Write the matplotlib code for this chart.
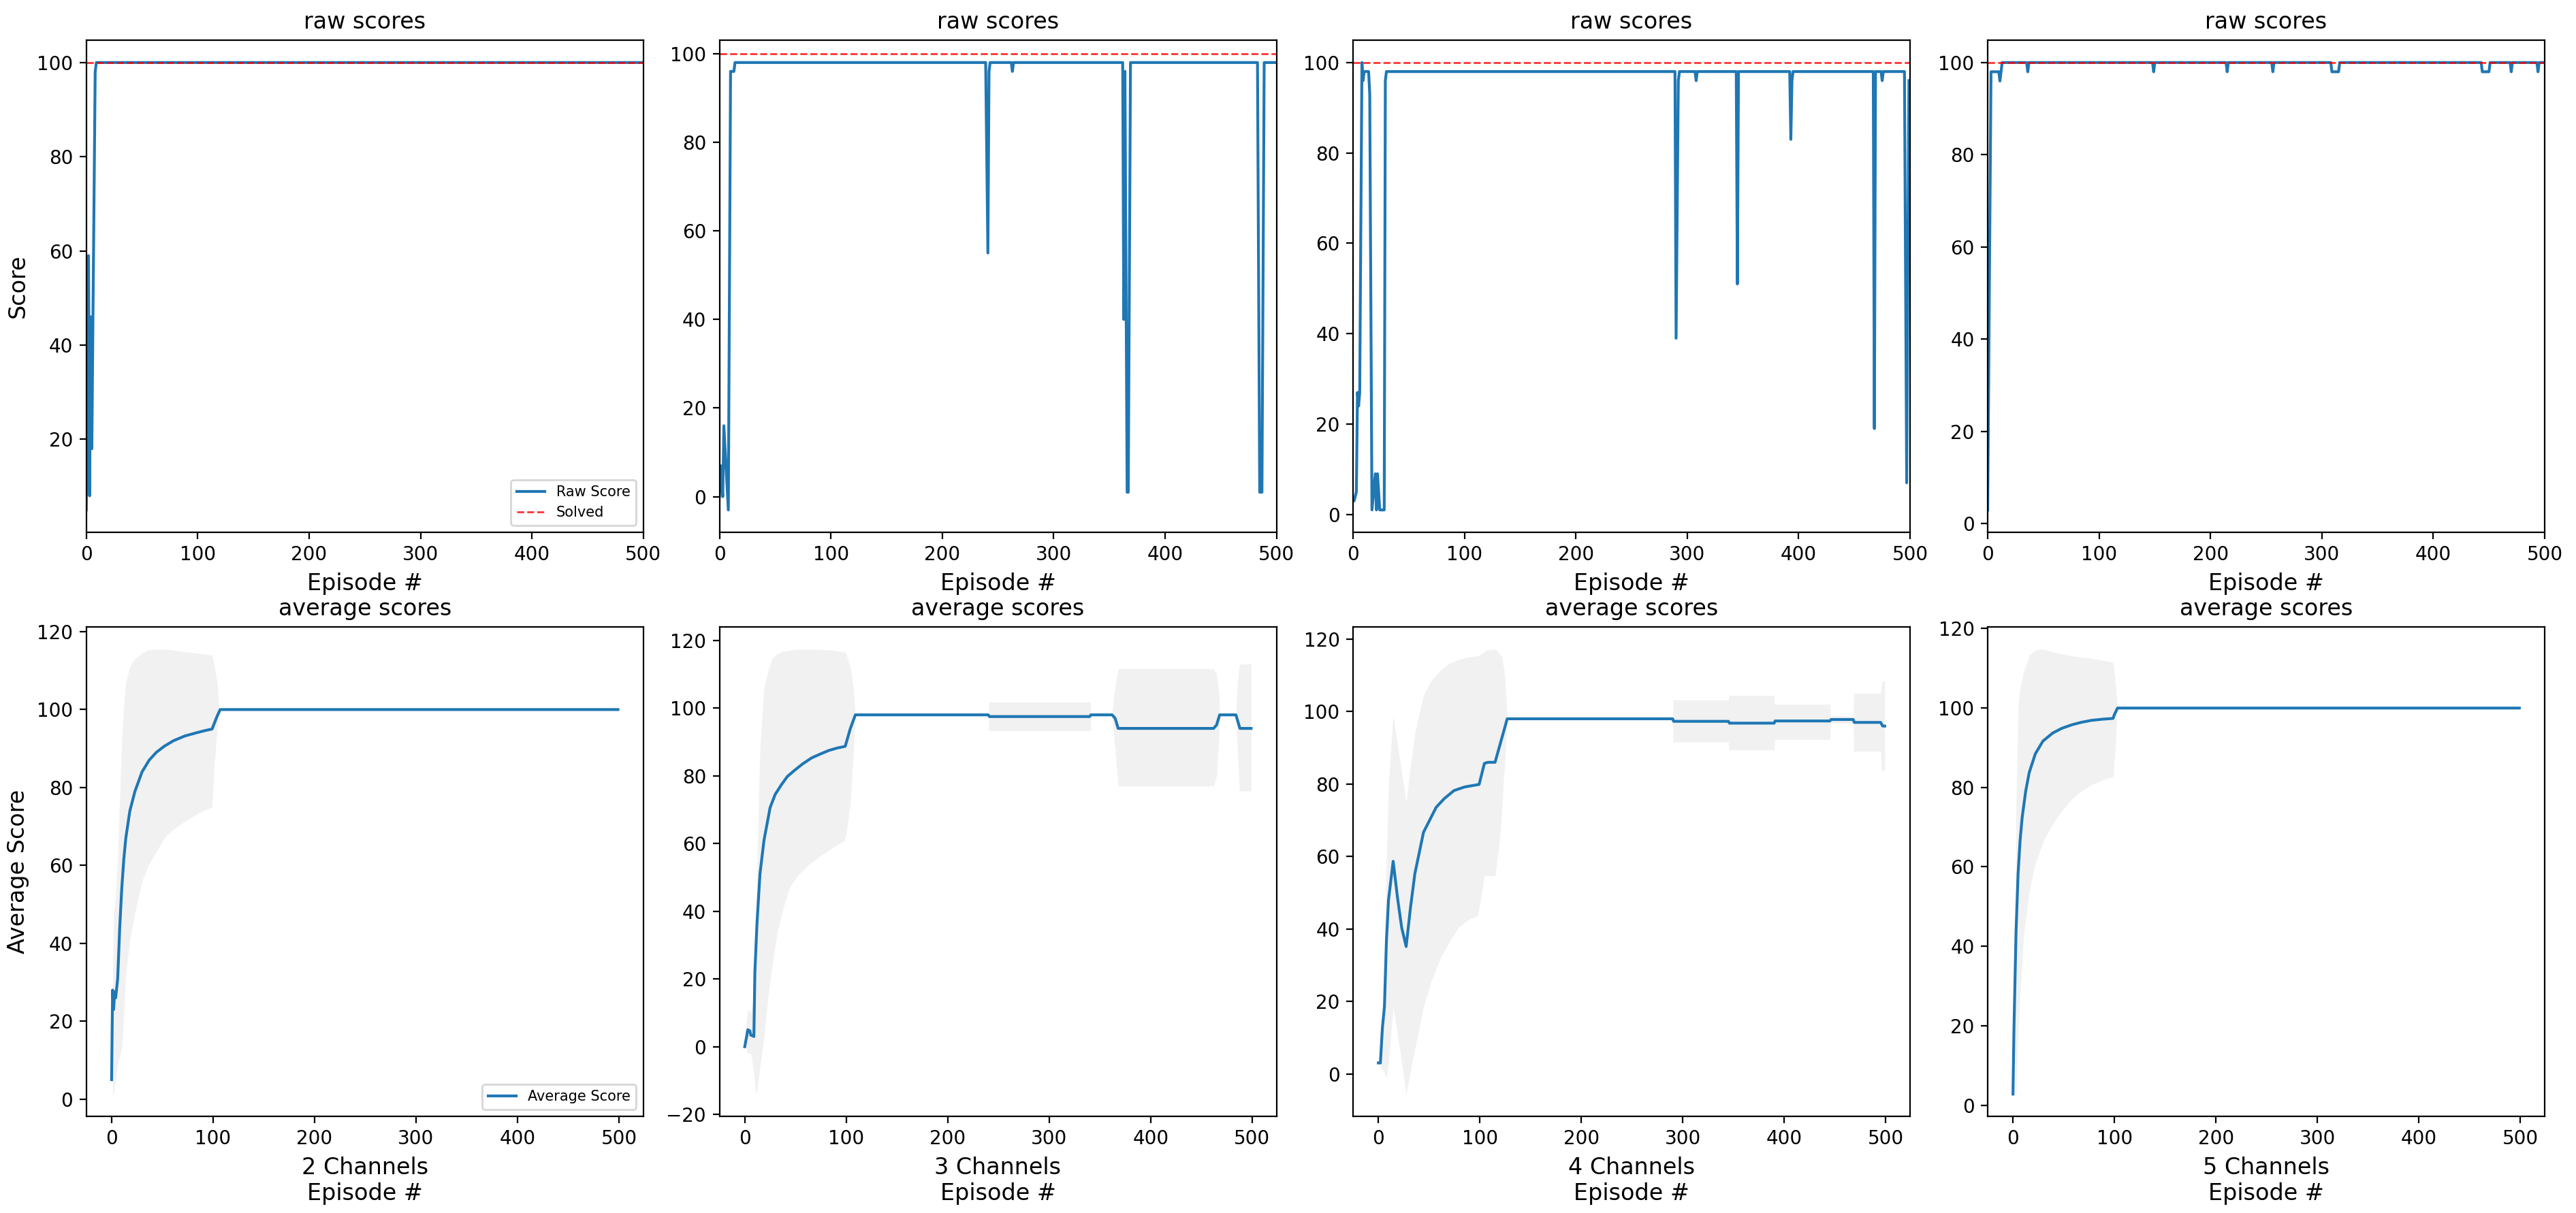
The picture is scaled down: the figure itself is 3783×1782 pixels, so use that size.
import numpy as np
import matplotlib
matplotlib.use("Agg")
import matplotlib.pyplot as plt

BLUE, RED, BAND = "#1f77b4", "red", "#f1f1f1"
SOLVED = 100
channels = ["2 Channels", "3 Channels", "4 Channels", "5 Channels"]

# ---- raw scores (episode, score) vertices ----
raw2_x = [0, 2, 3, 4, 5, 6, 8, 9, 499]
raw2_y = [5, 59, 8, 46, 18, 46, 98, 100, 100]

raw3_x = [0, 1, 3, 4, 8, 10, 13, 14, 239, 241, 242, 243, 262, 263, 264, 362, 363, 364,
          366, 367, 369, 483, 485, 487, 489, 499]
raw3_y = [0, 7, 0, 16, -3, 96, 96, 98, 98, 55, 96, 98, 98, 96, 98, 98, 40, 96,
          1, 1, 98, 98, 1, 1, 98, 98]

raw4_x = [0, 1, 3, 4, 5, 6, 8, 9, 10, 14, 15, 17, 20, 21, 22, 24, 28, 29, 30, 289, 290,
          292, 293, 307, 308, 309, 344, 345, 346, 392, 393, 394, 395, 467, 468, 469, 474,
          475, 476, 495, 497, 499]
raw4_y = [3, 3, 5, 27, 24, 27, 100, 96, 98, 98, 93, 1, 9, 1, 9, 1, 1, 96, 98, 98, 39,
          96, 98, 98, 96, 98, 98, 51, 98, 98, 83, 96, 98, 98, 19, 98, 98,
          96, 98, 98, 7, 96]

raw5_x = [0, 3, 10, 11, 13, 35, 36, 37, 148, 149, 150, 214, 215, 216, 255, 256, 257, 308,
          309, 315, 316, 443, 444, 450, 451, 469, 470, 471, 493, 494, 495, 499]
raw5_y = [3, 98, 98, 96, 100, 100, 98, 100, 100, 98, 100, 100, 98, 100, 100, 98, 100, 100,
          98, 98, 100, 100, 98, 98, 100, 100, 98, 100, 100, 98, 100, 100]

avg2_x = [0, 1, 2, 3, 4, 6, 8, 10, 12, 14, 18, 23, 30, 37, 44, 52, 61, 72, 83, 92, 99, 104, 107, 499]
avg2_y = [5, 28, 23, 27.5, 26, 31, 44, 54, 61.5, 67, 74, 79, 84, 87, 89, 90.6, 92, 93.2, 94,
          94.6, 95, 98.3, 100, 100]
band2_x = [1, 2, 4, 6, 8, 10, 12, 14, 18, 23, 30, 36, 45, 53, 62, 74, 86, 99, 101, 104, 106]
band2_lo = [1.3, 1.3, 5, 9, 11, 13, 21.5, 32, 41, 48, 56, 60, 64, 67.4, 69.5, 71.6, 73.5, 75,
            85, 95, 100]
band2_hi = [30, 48, 52, 62, 77, 92, 101, 107, 111, 113, 114.5, 115.3, 115.5, 115.5, 115.2,
            114.8, 114.4, 114, 111.5, 107, 100]

avg3_x = [0, 2, 3, 5, 6, 8, 9, 10, 12, 15, 19, 25, 30, 36, 42, 49, 57, 66, 75, 83, 91, 99,
          104, 109, 240, 241, 340, 341, 362, 365, 368, 462, 465, 468, 484, 488, 499]
avg3_y = [0, 3.2, 5, 4.7, 3.4, 3.2, 3, 22, 36, 51, 61, 70.6, 74.5, 77.3, 79.8, 81.6, 83.5,
          85.3, 86.5, 87.5, 88.2, 88.7, 93.9, 98, 98, 97.5, 97.5, 98, 98, 97, 94, 94, 95, 98,
          98, 94, 94]
band3_x = [1, 3, 6, 9, 11, 12.4, 15, 19, 23, 27, 32, 38, 44, 52, 62, 75, 88, 98, 100, 104,
           107, 109, 240.5, 240.6, 340.8, 340.9, 362, 363.5, 365, 368, 462, 465, 467.5, 468,
           484, 485.5, 487.6, 499]
band3_lo = [0, -2, -2, -8, -14, -12, -6, 3, 15, 24, 34, 41, 47, 50.5, 53.5, 56.5, 59, 60.8,
            63, 72, 86, 98, 98, 93.3, 93.3, 98, 98, 92, 88, 77, 77, 80, 92.6, 98, 98, 88,
            75.5, 75.5]
band3_hi = [6, 11, 10, 14, 40, 58, 88, 106, 111, 114.7, 116, 116.8, 117, 117.4, 117.4, 117.3,
            117, 116.5, 116, 112, 106, 98, 98, 101.8, 101.8, 98, 98, 103, 106, 111.6, 111.6,
            110, 103.7, 98, 98, 107, 113, 113]

avg4_x = [0, 2, 4, 6, 8, 10, 14.6, 19, 23, 27.4, 31.7, 36, 44.5, 57, 65, 74.5, 85, 99.3,
          104.5, 108, 115, 127, 290, 291, 345, 346, 390, 391, 445, 446, 468, 469, 495, 497, 499]
avg4_y = [3.1, 3.1, 12.8, 18.6, 37, 48, 58.7, 48.4, 40.4, 35.2, 46, 55.3, 66.7, 73.6, 76,
          78.2, 79.2, 79.9, 85.7, 86, 86, 98, 98, 97.3, 97.3, 96.8, 96.8, 97.4, 97.4, 97.8,
          97.8, 97, 97, 96, 96]
band4_x = [1, 2, 5, 8, 10, 14.6, 21, 27.4, 31.7, 36, 44.5, 52, 61.6, 70, 78.8, 88, 98, 101,
           104.5, 108, 115, 119.4, 121.6, 123.7, 125, 127, 290, 290.5, 345, 345.5, 390, 390.5,
           445, 445.5, 468, 468.5, 495, 496, 499]
band4_lo = [3, 2, 1, -1, 3, 18.6, 7, -5.5, 1, 7, 18.6, 25.5, 32.3, 36.5, 40.4, 42.5, 43.8,
            48.4, 54.7, 54.7, 54.7, 64.4, 72, 82.8, 88, 98, 98, 91.6, 91.6, 89.4, 89.4, 92.3,
            92.3, 96.8, 96.8, 89, 89, 83.7, 83.7]
band4_hi = [3.2, 4, 20, 60, 80, 99, 87, 75, 85, 94, 104.5, 108.5, 111.5, 113.3, 114.3, 115,
            115.4, 115.8, 116.5, 117, 117.2, 116, 115, 112, 108, 98, 98, 103.2, 103.2, 104.4,
            104.4, 102, 102, 98.8, 98.8, 105, 105, 108.3, 108.3]

avg5_x = [0, 1, 3, 5, 7, 9, 12.5, 16, 22, 29.5, 39, 48, 58, 67, 77, 88, 98.6, 100, 103, 499]
avg5_y = [2.9, 19.7, 43.6, 58.2, 66.6, 72.3, 79, 83.7, 88.4, 91.6, 93.6, 94.8, 95.7, 96.3,
          96.8, 97.1, 97.3, 98.3, 99.9, 99.9]
band5_x = [2, 3, 5, 7, 10.6, 16.2, 21, 25.7, 31, 38.9, 48, 57.8, 67, 76.7, 88, 98.6, 101, 103]
band5_lo = [3, 3, 17.6, 28, 43, 54, 60, 63.5, 67, 70.7, 74, 77, 79, 80.6, 81.8, 82.7, 90.5, 100]
band5_hi = [3, 75, 100, 105, 109, 113.2, 114.3, 114.7, 114.6, 114, 113.5, 113, 112.7, 112.4,
            111.9, 111.4, 106, 100]

raws = [(raw2_x, raw2_y), (raw3_x, raw3_y), (raw4_x, raw4_y), (raw5_x, raw5_y)]
avgs = [(avg2_x, avg2_y, band2_x, band2_lo, band2_hi),
        (avg3_x, avg3_y, band3_x, band3_lo, band3_hi),
        (avg4_x, avg4_y, band4_x, band4_lo, band4_hi),
        (avg5_x, avg5_y, band5_x, band5_lo, band5_hi)]

W, H, DPI = 3783, 1782, 200
fig = plt.figure(figsize=(W / DPI, H / DPI), dpi=DPI, facecolor="white")
lefts = [126.7, 1056.5, 1987, 2919]
aw = 818
top_row = (59, 782)      # pixel top / bottom of the raw-score axes
bot_row = (921, 1640)    # pixel top / bottom of the average-score axes

for i in range(4):
    # ---- top: raw scores ----
    ax = fig.add_axes([lefts[i] / W, 1 - top_row[1] / H, aw / W, (top_row[1] - top_row[0]) / H])
    x, y = raws[i]
    ax.plot(x, y, color=BLUE, lw=1.5, label="Raw Score")
    ax.axhline(SOLVED, color=RED, ls="--", lw=1, alpha=0.8, label="Solved")
    ax.set_xlim(0, 500)
    ax.set_title("raw scores", fontsize=12)
    ax.set_xlabel("Episode #", fontsize=12)
    ax.tick_params(labelsize=10)
    if i == 0:
        ax.set_ylabel("Score", fontsize=12)
        ax.legend(loc="lower right", fontsize=7.5)

    # ---- bottom: average scores with band ----
    ax = fig.add_axes([lefts[i] / W, 1 - bot_row[1] / H, aw / W, (bot_row[1] - bot_row[0]) / H])
    mx, my, bx, lo, hi = avgs[i]
    ax.fill_between(bx, lo, hi, color=BAND, lw=0)
    ax.plot(mx, my, color=BLUE, lw=1.5, label="Average Score")
    ax.set_title("average scores", fontsize=12)
    ax.set_xlabel(channels[i] + "\nEpisode #", fontsize=12)
    ax.set_xticks([0, 100, 200, 300, 400, 500])
    ax.tick_params(labelsize=10)
    if i == 0:
        ax.set_ylabel("Average Score", fontsize=12)
        ax.legend(loc="lower right", fontsize=7.5)

fig.savefig("out.png", dpi=DPI, facecolor="white")
